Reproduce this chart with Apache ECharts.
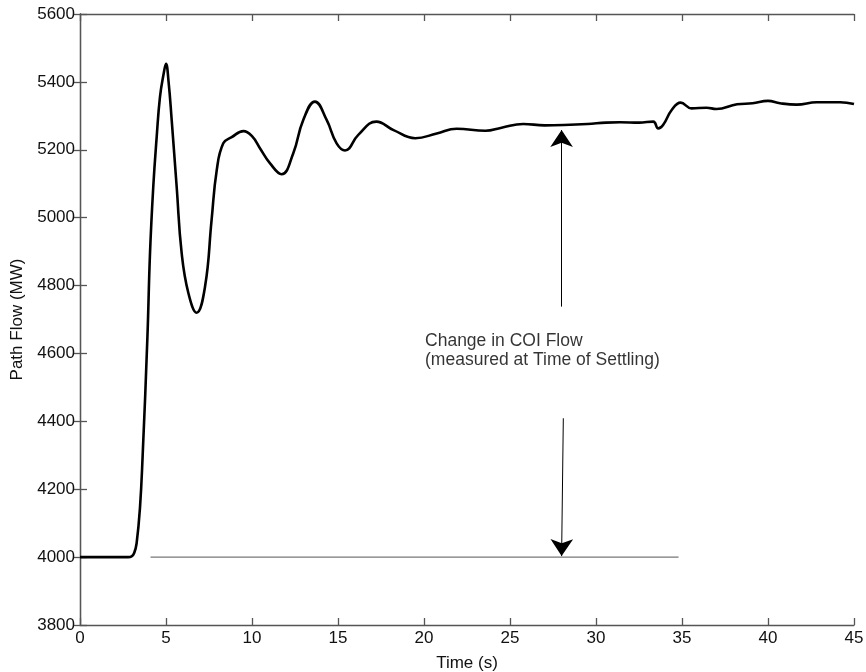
<!DOCTYPE html>
<html>
<head>
<meta charset="utf-8">
<script src="https://cdn.jsdelivr.net/npm/echarts@6/dist/echarts.min.js"></script>
<style>html,body{margin:0;padding:0;background:#fff;}#c{width:866px;height:672px;}</style>
</head>
<body>
<div id="c"></div>
<script>
// Path flow trace (time in s, flow in MW)
var timeS = [0, 1.5, 2.8, 3.0, 3.15, 3.29, 3.49, 3.64, 3.92, 4.07, 4.26, 4.46, 4.65, 4.85, 5.0, 5.15, 5.33, 5.62, 5.91, 6.3, 6.78, 7.27, 7.65, 7.95, 8.33, 8.82, 9.5, 10.0, 10.47, 11.05, 11.72, 12.4, 12.98, 13.66, 14.34, 14.92, 15.41, 16.18, 17.23, 18.23, 19.49, 20.74, 21.9, 23.57, 24.51, 25.77, 27.0, 28.13, 29.5, 30.58, 31.4, 32.5, 33.33, 33.62, 33.9, 34.4, 34.92, 35.56, 36.43, 37.0, 38.2, 39.1, 40.0, 40.7, 41.67, 42.83, 44.19, 45];
var flowMW = [4000, 4000, 4000, 4002, 4012, 4040, 4148, 4296, 4649, 4895, 5091, 5239, 5356, 5420, 5453, 5400, 5288, 5091, 4896, 4778, 4720, 4797, 4993, 5140, 5219, 5237, 5255, 5240, 5204, 5160, 5128, 5190, 5288, 5342, 5288, 5219, 5198, 5244, 5283, 5258, 5234, 5248, 5262, 5256, 5265, 5276, 5272, 5273, 5276, 5280, 5281, 5280, 5283, 5263, 5273, 5317, 5339, 5322, 5324, 5320, 5334, 5337, 5344, 5337, 5333, 5340, 5340, 5335];

// Axis ticks
var xTicks = {min: 0, max: 45, step: 5};
var yTicks = {min: 3800, max: 5600, step: 200};

// Annotations
var baseLineT = [4.1, 34.8];
var baseLineV = 4000;
var arrowUp = [[28.0, 4738], [28.0, 5258]];
var arrowDown = [[28.1, 4409], [28.0, 4003]];
var noteText = ['Change in COI Flow', '(measured at Time of Settling)'];
var notePos = [[20.06, 4636], [20.06, 4580]];

var font = 'Liberation Sans, Arial, Helvetica, sans-serif';
var series = [];
series.push({
  type: 'line',
  data: timeS.map(function (t, i) { return [t, flowMW[i]]; }),
  showSymbol: false,
  smooth: 0.45,
  lineStyle: {color: '#000', width: 2.6},
  z: 5,
  silent: true
});
series.push({
  type: 'line',
  data: [[baseLineT[0], baseLineV], [baseLineT[1], baseLineV]],
  showSymbol: false,
  lineStyle: {color: '#777', width: 1.4},
  silent: true
});
series.push({
  type: 'lines',
  coordinateSystem: 'cartesian2d',
  data: [{coords: arrowUp}, {coords: arrowDown}],
  symbol: ['none', 'arrow'],
  symbolSize: [12, 17],
  lineStyle: {color: '#000', width: 1, opacity: 1},
  silent: true,
  z: 6
});
series.push({
  type: 'scatter',
  data: notePos.map(function (p, i) { return {value: p, name: noteText[i]}; }),
  symbolSize: 0,
  silent: true,
  label: {
    show: true,
    position: [0, 0],
    align: 'left',
    verticalAlign: 'middle',
    formatter: function (p) { return p.name; },
    fontFamily: font,
    fontSize: 17.5,
    color: '#000'
  }
});

var axisCommon = {
  type: 'value',
  axisLine: {show: true, lineStyle: {color: '#555', width: 1.3}},
  axisTick: {show: true, inside: true, length: 7, lineStyle: {color: '#555', width: 1.3}},
  splitLine: {show: false}
};
function ax(extra) { return Object.assign({}, JSON.parse(JSON.stringify(axisCommon)), extra); }
var labelStyle = {fontFamily: font, fontSize: 17, color: '#111'};
function plain(v) { return String(v); }

var option = {
  animation: false,
  backgroundColor: '#fff',
  grid: {left: 80, right: 12, top: 14, bottom: 47, containLabel: false, outerBoundsMode: 'none'},
  xAxis: [
    ax({position: 'bottom', min: xTicks.min, max: xTicks.max, interval: xTicks.step,
        axisLabel: Object.assign({margin: 5, formatter: plain}, labelStyle),
        name: 'Time (s)', nameLocation: 'middle', nameGap: 30,
        nameTextStyle: labelStyle}),
    ax({position: 'top', min: xTicks.min, max: xTicks.max, interval: xTicks.step,
        axisLabel: {show: false}})
  ],
  yAxis: [
    ax({position: 'left', min: yTicks.min, max: yTicks.max, interval: yTicks.step,
        axisLabel: Object.assign({margin: 5, formatter: plain}, labelStyle),
        name: 'Path Flow (MW)', nameLocation: 'middle', nameGap: 54, nameRotate: 90,
        nameTextStyle: labelStyle}),
    ax({position: 'right', min: yTicks.min, max: yTicks.max, interval: yTicks.step,
        axisLabel: {show: false}})
  ],
  series: series
};
var chart = echarts.init(document.getElementById('c'), null, {renderer: 'canvas'});
chart.setOption(option);
</script>
</body>
</html>
